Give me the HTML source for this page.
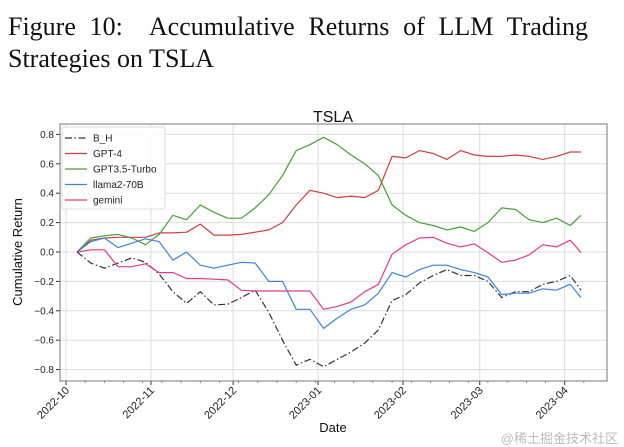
<!DOCTYPE html>
<html><head><meta charset="utf-8"><style>
body{margin:0;background:#fff;width:624px;height:447px;overflow:hidden;position:relative}
.cap{position:absolute;left:8px;width:580px;font-family:"Liberation Serif",serif;font-size:26px;color:#111;line-height:32px;white-space:nowrap}
</style></head><body>
<div class="cap" style="top:11px;text-align:justify;text-align-last:justify;white-space:normal">Figure 10:&nbsp; Accumulative Returns of LLM Trading</div>
<div class="cap" style="top:43px">Strategies on TSLA</div>
<svg id="chart" width="624" height="447" style="position:absolute;left:0;top:0" font-family="Liberation Sans, DejaVu Sans, sans-serif"></svg>
<div style="position:absolute;right:6px;top:428px;font-family:'Liberation Sans','Noto Sans CJK SC',sans-serif;font-size:13px;color:#bbb">@稀土掘金技术社区</div>
<script>
const dates=["2022-10-05","2022-10-10","2022-10-15","2022-10-20","2022-10-25","2022-10-30","2022-11-04","2022-11-09","2022-11-14","2022-11-19","2022-11-24","2022-11-29","2022-12-04","2022-12-09","2022-12-14","2022-12-19","2022-12-24","2022-12-29","2023-01-03","2023-01-08","2023-01-13","2023-01-18","2023-01-23","2023-01-28","2023-02-02","2023-02-07","2023-02-12","2023-02-17","2023-02-22","2023-02-27","2023-03-04","2023-03-09","2023-03-14","2023-03-19","2023-03-24","2023-03-29","2023-04-03","2023-04-07"];
const bh=[0,-.075,-.11,-.075,-.04,-.07,-.15,-.27,-.35,-.27,-.36,-.355,-.31,-.26,-.41,-.60,-.77,-.73,-.78,-.73,-.68,-.62,-.53,-.33,-.29,-.21,-.16,-.12,-.16,-.16,-.20,-.31,-.27,-.27,-.22,-.20,-.16,-.26];
const gpt4=[0,.08,.095,.10,.10,.10,.13,.13,.135,.19,.115,.115,.12,.135,.15,.20,.32,.42,.40,.37,.38,.37,.42,.65,.64,.69,.67,.63,.69,.66,.65,.65,.66,.65,.63,.65,.68,.68];
const gpt35=[0,.095,.11,.12,.095,.05,.12,.25,.22,.32,.27,.23,.23,.30,.39,.52,.69,.73,.78,.73,.66,.60,.52,.32,.25,.20,.18,.15,.17,.14,.20,.30,.29,.22,.20,.23,.18,.25];
const llama=[0,.07,.095,.03,.06,.09,.07,-.055,0,-.09,-.11,-.09,-.07,-.075,-.20,-.20,-.39,-.39,-.52,-.45,-.39,-.36,-.28,-.14,-.17,-.12,-.09,-.09,-.12,-.14,-.17,-.29,-.28,-.28,-.25,-.26,-.22,-.31];
const gemini=[0,.015,.015,-.10,-.10,-.08,-.14,-.14,-.18,-.18,-.185,-.19,-.26,-.265,-.265,-.265,-.265,-.265,-.39,-.37,-.34,-.27,-.22,-.015,.05,.095,.10,.06,.035,.055,-.005,-.07,-.055,-.02,.05,.035,.08,-.005];
const yTicks=[-0.8,-0.6,-0.4,-0.2,0.0,0.2,0.4,0.6,0.8];
const xTicks=["2022-10","2022-11","2022-12","2023-01","2023-02","2023-03","2023-04"];
const seriesNames=["B_H","GPT-4","GPT3.5-Turbo","llama2-70B","gemini"];

const NS="http://www.w3.org/2000/svg";
const svg=document.getElementById("chart");
const L=60,R=607,T=124,B=381;
const t0=Date.UTC(2022,9,1);
const dayOf=s=>{const p=s.split("-").map(Number);return (Date.UTC(p[0],p[1]-1,p[2]||1)-t0)/864e5;};
const X=s=>66+2.74*dayOf(s);
const Y=v=>252-v*147;
function mk(tag,attrs,parent){const e=document.createElementNS(NS,tag);for(const k in attrs)e.setAttribute(k,attrs[k]);(parent||svg).appendChild(e);return e;}
let t=mk("text",{x:333,y:122,"text-anchor":"middle","font-size":16,fill:"#111"});t.textContent="TSLA";


yTicks.forEach(v=>{const y=Y(v);
 const g=mk("line",{x1:L,x2:R,y1:y,y2:y,stroke:"#dcdcdc","stroke-width":1});
 
 
 mk("line",{x1:L-4,x2:L,y1:y,y2:y,stroke:"#333"});
 const tx=mk("text",{x:L-6,y:y+3.5,"text-anchor":"end","font-size":10,fill:"#222"});
 tx.textContent=(v<0?"\u22120.":"0.")+Math.round(Math.abs(v)*10);
 
 
});
xTicks.forEach(s=>{const x=X(s);
 const g=mk("line",{x1:x,x2:x,y1:T,y2:B,stroke:"#dcdcdc","stroke-width":1});
 
 
 mk("line",{x1:x,x2:x,y1:B,y2:B+4,stroke:"#333"});
 const tx=mk("text",{x:x+4,y:B+10,"text-anchor":"end","font-size":11,fill:"#222",transform:`rotate(-45 ${x+4} ${B+10})`});
 tx.textContent=s;
 
 
});
for(let d=0;d<=190;d+=7){const x=66+2.74*d;if(x>L&&x<R)mk("line",{x1:x,x2:x,y1:B,y2:B+2,stroke:"#555","stroke-width":0.7});}
const fr=mk("rect",{x:L,y:T,width:R-L,height:B-T,fill:"none",stroke:"#777","stroke-width":1});


const data=[bh,gpt4,gpt35,llama,gemini];
const colors=["#333","#c9403f","#4c9a3f","#3f82d6","#e03c85"];
const dash=["7,2.5,1.5,2.5","","","",""];
const ids=["series-bh","series-gpt4","series-gpt35-turbo","series-llama2-70b","series-gemini"];
data.forEach((arr,i)=>{
 const d=arr.map((v,j)=>(j?"L":"M")+X(dates[j]).toFixed(1)+","+Y(v).toFixed(1)).join("");
 const p=mk("path",{d,fill:"none",stroke:colors[i],"stroke-width":1.2,"stroke-dasharray":dash[i],"stroke-linejoin":"round"});
 
 
});
const lg=mk("g",{});


mk("rect",{x:62,y:127,width:103,height:82,fill:"#fff","fill-opacity":0.85,stroke:"#ddd",rx:2},lg);
seriesNames.forEach((n,i)=>{const y=138+i*15.5;
 mk("line",{x1:65,x2:87,y1:y,y2:y,stroke:colors[i],"stroke-width":1.2,"stroke-dasharray":dash[i]},lg);
 const tx=mk("text",{x:93,y:y+3.5,"font-size":10,fill:"#222"},lg);tx.textContent=n;
 
 
});
let xl=mk("text",{x:333,y:432,"text-anchor":"middle","font-size":13,fill:"#111"});xl.textContent="Date";


let yl=mk("text",{x:22,y:252,"text-anchor":"middle","font-size":13,fill:"#111",transform:"rotate(-90 22 252)"});yl.textContent="Cumulative Return";


</script>
</body></html>
